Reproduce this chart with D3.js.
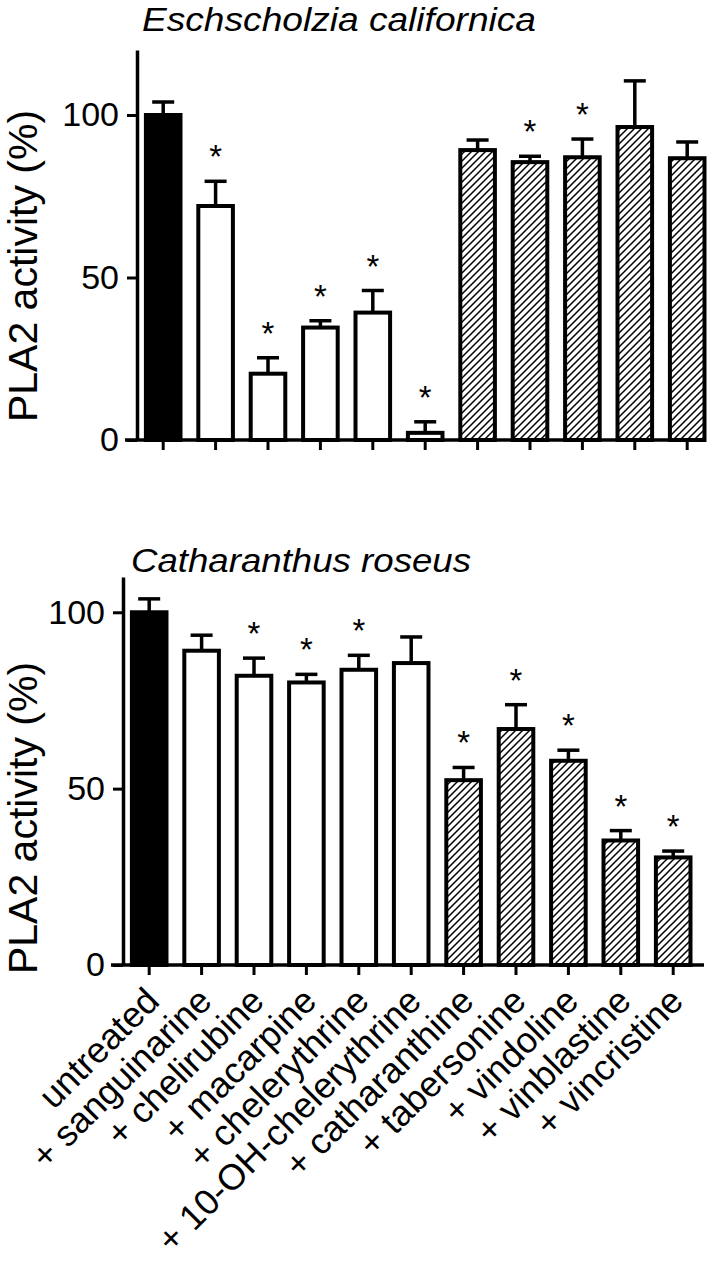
<!DOCTYPE html>
<html>
<head>
<meta charset="utf-8">
<script src="https://cdn.jsdelivr.net/npm/d3@7"></script>
<style>
  html, body { margin: 0; padding: 0; background: #fff; }
  svg { display: block; font-family: "Liberation Sans", Arial, sans-serif; }
</style>
</head>
<body>
<svg id="chart" width="717" height="1262"></svg>
<script>
// ---------------- DATA ----------------
const categories = ["untreated", "+ sanguinarine", "+ chelirubine", "+ macarpine",
  "+ chelerythrine", "+ 10-OH-chelerythrine", "+ catharanthine", "+ tabersonine",
  "+ vindoline", "+ vinblastine", "+ vincristine"];
const groups = ["control", "benzo", "benzo", "benzo", "benzo", "benzo",
  "indole", "indole", "indole", "indole", "indole"];

const topTitle = "Eschscholzia californica";
const topMeans = [100, 72, 20.4, 34.6, 39.2, 2.2, 89.2, 85.5, 87, 96.3, 86.7];
const topErr   = [4, 7.6, 4.9, 2.1, 6.8, 3.4, 3.1, 1.8, 5.6, 14.2, 5];
const topSig   = [0, 1, 1, 1, 1, 1, 0, 1, 1, 0, 0];

const bottomTitle = "Catharanthus roseus";
const bottomMeans = [100, 89.1, 82.0, 80.1, 83.7, 85.6, 52.4, 66.9, 57.9, 35.3, 30.5];
const bottomErr   = [3.8, 4.4, 5.0, 2.3, 4.1, 7.4, 3.6, 6.9, 3.0, 2.8, 1.8];
const bottomSig   = [0, 0, 1, 1, 1, 0, 1, 1, 1, 1, 1];

const yTicks = [0, 50, 100];
const yLabel = "PLA2 activity (%)";

// ---------------- DRAWING ----------------
const svg = d3.select("#chart");

const defs = svg.append("defs");
const pat = defs.append("pattern")
  .attr("id", "hatch").attr("patternUnits", "userSpaceOnUse")
  .attr("width", 7).attr("height", 7);
pat.append("rect").attr("width", 7).attr("height", 7).attr("fill", "#fff");
pat.append("path")
  .attr("d", "M0,7 L7,0 M-2,2 L2,-2 M5,9 L9,5")
  .attr("stroke", "#000").attr("stroke-width", 1.5);

const fillFor = g => g === "control" ? "#000" : (g === "benzo" ? "#fff" : "url(#hatch)");

function panel(cfg) {
  const g = svg.append("g");
  const x = d3.scaleBand().domain(categories)
    .range([cfg.x0, cfg.x0 + cfg.step * categories.length])
    .paddingInner(0.34).paddingOuter(0.17);
  const y = d3.scaleLinear().domain([0, cfg.yMax]).range([cfg.y0, cfg.yTop]);
  const data = categories.map((c, i) => ({c, g: groups[i], m: cfg.means[i], e: cfg.err[i], s: cfg.sig[i]}));

  // error bars (drawn first, behind bars)
  const eb = g.append("g").attr("stroke", "#000").attr("stroke-width", 3.5).attr("fill", "none");
  data.forEach(d => {
    const cx = x(d.c) + x.bandwidth() / 2;
    eb.append("line").attr("x1", cx).attr("x2", cx).attr("y1", y(d.m)).attr("y2", y(d.m + d.e));
    eb.append("line").attr("x1", cx - 11).attr("x2", cx + 11).attr("y1", y(d.m + d.e)).attr("y2", y(d.m + d.e));
  });

  // bars
  g.append("g").selectAll("rect").data(data).join("rect")
    .attr("x", d => x(d.c))
    .attr("y", d => y(d.m))
    .attr("width", x.bandwidth())
    .attr("height", d => y(0) - y(d.m))
    .attr("fill", d => fillFor(d.g))
    .attr("stroke", "#000").attr("stroke-width", 4).attr("stroke-linejoin", "miter");

  // asterisks
  g.append("g").selectAll("text").data(data.filter(d => d.s)).join("text")
    .attr("x", d => x(d.c) + x.bandwidth() / 2)
    .attr("y", d => y(d.m + d.e) - 13)
    .attr("text-anchor", "middle")
    .attr("font-size", 33)
    .text("*");

  // x axis
  const xa = g.append("g").attr("transform", `translate(0,${cfg.y0})`)
    .call(d3.axisBottom(x).tickSize(10).tickSizeOuter(0).tickFormat(""));
  xa.select(".domain").attr("d", `M${cfg.x0 - 12},0H${cfg.axisEnd}`).attr("stroke-width", 3.5);
  xa.selectAll(".tick line").attr("stroke-width", 3);

  // y axis
  const ya = g.append("g").attr("transform", `translate(${cfg.x0},0)`)
    .call(d3.axisLeft(y).tickValues(yTicks).tickSize(10).tickSizeOuter(0).tickPadding(8));
  ya.select(".domain").attr("stroke-width", 3.5);
  ya.selectAll(".tick line").attr("stroke-width", 3);
  ya.selectAll(".tick text").attr("font-size", 34).attr("font-family", "Liberation Sans, Arial, sans-serif").attr("fill", "#000");

  // y label
  g.append("text")
    .attr("transform", `translate(${cfg.ylabX},${cfg.ylabY}) rotate(-90)`)
    .attr("text-anchor", "middle")
    .attr("font-size", 41)
    .text(yLabel);

  // title
  g.append("text")
    .attr("x", cfg.titleX).attr("y", cfg.titleY)
    .attr("font-size", 34).attr("font-style", "italic")
    .attr("textLength", cfg.titleLen).attr("lengthAdjust", "spacingAndGlyphs")
    .text(cfg.title);

  return {x, y};
}

panel({x0: 137, step: 52.4, y0: 440, yTop: 50, yMax: 120, axisEnd: 706,
  means: topMeans, err: topErr, sig: topSig,
  ylabX: 37, ylabY: 266, titleX: 142, titleY: 31, titleLen: 394, title: topTitle});

const bot = panel({x0: 123, step: 52.4, y0: 965, yTop: 577, yMax: 110, axisEnd: 704,
  means: bottomMeans, err: bottomErr, sig: bottomSig,
  ylabX: 37, ylabY: 818, titleX: 131, titleY: 572, titleLen: 340, title: bottomTitle});

// category labels
svg.append("g").selectAll("text").data(categories).join("text")
  .attr("transform", d => `translate(${bot.x(d) + bot.x.bandwidth() / 2 + 12},1003) rotate(-45)`)
  .attr("text-anchor", "end")
  .attr("font-size", 36)
  .text(d => d);
</script>
</body>
</html>
